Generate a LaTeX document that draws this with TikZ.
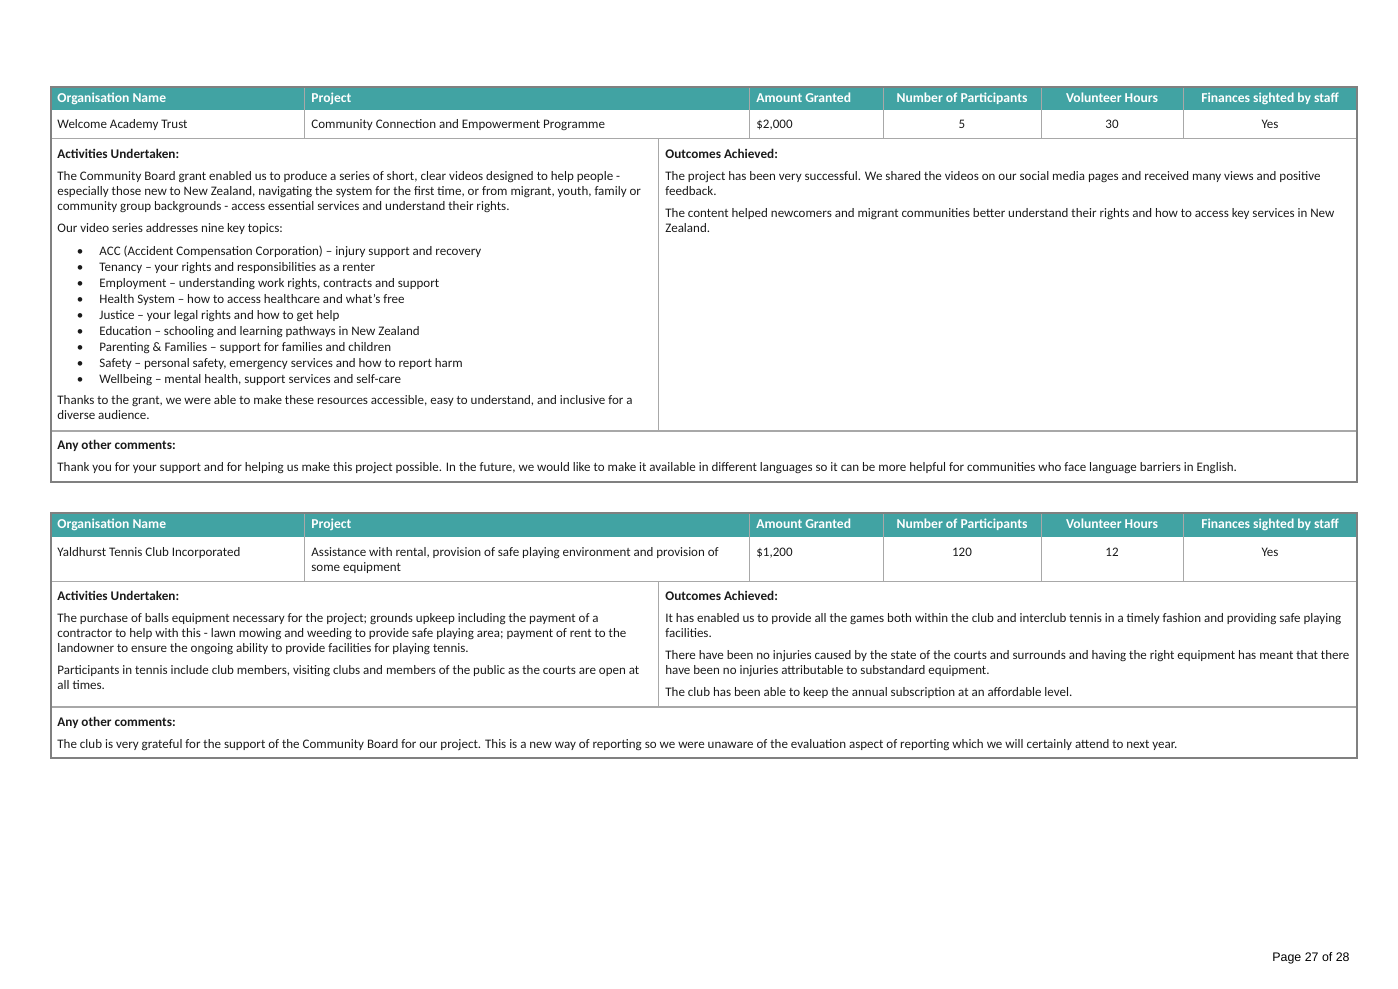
\documentclass[tikz,border=0pt]{standalone}
\usepackage{fontspec}
\setmainfont{Carlito}
\newfontfamily\footfont{Liberation Sans}
\definecolor{hdrteal}{HTML}{41A3A3}
\definecolor{rulegray}{HTML}{A8A8A8}
\definecolor{framegray}{HTML}{808080}
\definecolor{bodytext}{HTML}{1A1A1A}
\newcommand\cellLines[1]{\begin{tabular}[t]{@{}l@{}}#1\end{tabular}}

\begin{document}
\begin{tikzpicture}[x=0.5pt,y=-0.5pt,
    cell/.style={anchor=base west,inner sep=0pt,text=bodytext,font=\fontsize{6.5}{7.5}\selectfont},
    cellc/.style={cell,anchor=base},
    head/.style={cell,text=white,font=\fontsize{6.8}{7.5}\selectfont\bfseries},
    headc/.style={head,anchor=base},
    label/.style={cell,font=\fontsize{6.6}{7.5}\selectfont\bfseries}]
        \useasboundingbox (0,0) rectangle (1398,989);
        % table frames: top / header bottom / row bottom / activities bottom / bottom
        \foreach \ta/\tb/\tc/\td/\te in {87/110/139/431/482,513/537/581/707/758}{
            \fill[hdrteal] (51,\ta) rectangle (1357,\tb);
            \foreach \cx in {304,749,883,1041,1183}
                \draw[rulegray,line width=0.5pt] (\cx,\ta) -- (\cx,\tc);
            \draw[rulegray,line width=0.5pt] (51,\tc) -- (1357,\tc);
            \draw[rulegray,line width=0.8pt] (51,\td) -- (1357,\td);
            \draw[rulegray,line width=0.5pt] (658,\tc) -- (658,\td);
            \draw[framegray,line width=0.6pt] (51,\ta) rectangle (1357,\te);
        }

        \begin{scope}[yshift=-0.5pt]
        % first grant
        \node[head] (hOrgA) at (57,102) {Organisation Name};
        \node[head] (hProjA) at (311,102) {Project};
        \node[head] (hAmtA) at (756,102) {Amount Granted};
        \node[headc] (hNumA) at (962,102) {Number of Participants};
        \node[headc] (hVolA) at (1112,102) {Volunteer Hours};
        \node[headc] (hFinA) at (1270,102) {Finances sighted by staff};
        \node[cell] (orgA) at (57,128) {Welcome Academy Trust};
        \node[cell] (projA) at (311,128) {Community Connection and Empowerment Programme};
        \node[cell] (amtA) at (756,128) {\$2,000};
        \node[cellc] (numA) at (962,128) {5};
        \node[cellc] (volA) at (1112,128) {30};
        \node[cellc] (finA) at (1270,128) {Yes};

        \node[label] (actA) at (57,158) {Activities Undertaken:};
        \node[cell] (actA1) at (57,180) {\cellLines{The Community Board grant enabled us to produce a series of short, clear videos designed to help people -\\
            especially those new to New Zealand, navigating the system for the first time, or from migrant, youth, family or\\
            community group backgrounds - access essential services and understand their rights.}};
        \node[cell] (actA2) at (57,232) {Our video series addresses nine key topics:};
        \foreach \topic [count=\i from 0] in {%
            {ACC (Accident Compensation Corporation) – injury support and recovery},
            {Tenancy – your rights and responsibilities as a renter},
            {Employment – understanding work rights, contracts and support},
            {Health System – how to access healthcare and what’s free},
            {Justice – your legal rights and how to get help},
            {Education – schooling and learning pathways in New Zealand},
            {Parenting \& Families – support for families and children},
            {Safety – personal safety, emergency services and how to report harm},
            {Wellbeing – mental health, support services and self-care}}{
            \node[cellc] (dotA\i) at (80,255+15.9*\i) {\textbullet};
            \node[cell] (topicA\i) at (99,255+15.9*\i) {\topic};
        }
        \node[cell] (actA3) at (57,404) {\cellLines{Thanks to the grant, we were able to make these resources accessible, easy to understand, and inclusive for a\\
            diverse audience.}};

        \node[label] (outA) at (665,158) {Outcomes Achieved:};
        \node[cell] (outA1) at (665,180) {\cellLines{The project has been very successful. We shared the videos on our social media pages and received many views and positive\\
            feedback.}};
        \node[cell] (outA2) at (665,217) {\cellLines{The content helped newcomers and migrant communities better understand their rights and how to access key services in New\\
            Zealand.}};

        \node[label] (comA) at (57,449) {Any other comments:};
        \node[cell] (comA1) at (57,471) {Thank you for your support and for helping us make this project possible. In the future, we would like to make it available in different languages so it can be more helpful for communities who face language barriers in English.};

        % second grant
        \node[head] (hOrgB) at (57,528) {Organisation Name};
        \node[head] (hProjB) at (311,528) {Project};
        \node[head] (hAmtB) at (756,528) {Amount Granted};
        \node[headc] (hNumB) at (962,528) {Number of Participants};
        \node[headc] (hVolB) at (1112,528) {Volunteer Hours};
        \node[headc] (hFinB) at (1270,528) {Finances sighted by staff};
        \node[cell] (orgB) at (57,555) {Yaldhurst Tennis Club Incorporated};
        \node[cell] (projB) at (311,555) {\cellLines{Assistance with rental, provision of safe playing environment and provision of\\
            some equipment}};
        \node[cell] (amtB) at (756,555) {\$1,200};
        \node[cellc] (numB) at (962,555) {120};
        \node[cellc] (volB) at (1112,555) {12};
        \node[cellc] (finB) at (1270,555) {Yes};

        \node[label] (actB) at (57,599) {Activities Undertaken:};
        \node[cell] (actB1) at (57,621) {\cellLines{The purchase of balls equipment necessary for the project; grounds upkeep including the payment of a\\
            contractor to help with this - lawn mowing and weeding to provide safe playing area; payment of rent to the\\
            landowner to ensure the ongoing ability to provide facilities for playing tennis.}};
        \node[cell] (actB2) at (57,673) {\cellLines{Participants in tennis include club members, visiting clubs and members of the public as the courts are open at\\
            all times.}};

        \node[label] (outB) at (665,599) {Outcomes Achieved:};
        \node[cell] (outB1) at (665,621) {\cellLines{It has enabled us to provide all the games both within the club and interclub tennis in a timely fashion and providing safe playing\\
            facilities.}};
        \node[cell] (outB2) at (665,658) {\cellLines{There have been no injuries caused by the state of the courts and surrounds and having the right equipment has meant that there\\
            have been no injuries attributable to substandard equipment.}};
        \node[cell] (outB3) at (665,695) {The club has been able to keep the annual subscription at an affordable level.};

        \node[label] (comB) at (57,725) {Any other comments:};
        \node[cell] (comB1) at (57,747) {The club is very grateful for the support of the Community Board for our project. This is a new way of reporting so we were unaware of the evaluation aspect of reporting which we will certainly attend to next year.};
        \end{scope}

        \node[anchor=base east,inner sep=0pt,font=\footfont\fontsize{6.2}{8}\selectfont] (page) at (1350,961) {Page 27 of 28};
    \end{tikzpicture}
\end{document}
